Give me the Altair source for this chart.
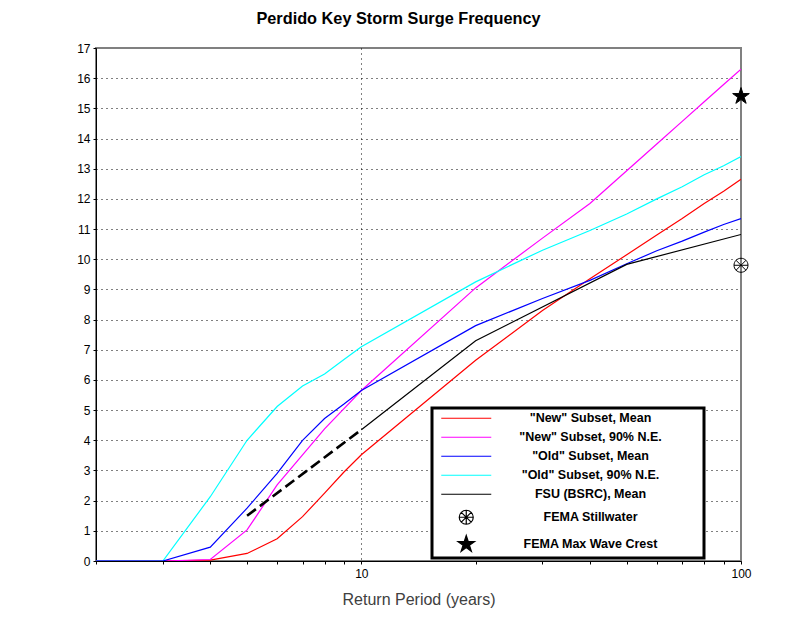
import math
import altair as alt
import pandas as pd

# ---- data ----
periods = [2, 3, 4, 5, 6, 7, 8, 9, 10, 20, 30, 40, 50, 60, 70, 80, 90, 100]
new_mean = [0, 0, 0.03, 0.25, 0.74, 1.47, 2.25, 2.95, 3.52, 6.65, 8.3, 9.35, 10.15, 10.8, 11.35, 11.85, 12.25, 12.65]
new_90 = [0, 0, 0.05, 1.03, 2.52, 3.52, 4.38, 5.05, 5.65, 9.05, 10.7, 11.85, 12.93, 13.82, 14.57, 15.22, 15.79, 16.3]
old_mean = [0, 0, 0.46, 1.75, 2.9, 4.0, 4.72, 5.2, 5.65, 7.8, 8.7, 9.3, 9.85, 10.28, 10.6, 10.9, 11.15, 11.35]
old_90 = [0, 0, 2.13, 4.0, 5.12, 5.8, 6.2, 6.68, 7.1, 9.25, 10.3, 10.95, 11.5, 12.0, 12.4, 12.8, 13.1, 13.4]
fsu_periods = [5, 10, 20, 50, 100]
fsu_mean = [1.5, 4.35, 7.3, 9.83, 10.82]
fema_periods = [100, 100]
fema_values = [9.8, 15.4]

labels = ['"New" Subset, Mean', '"New" Subset, 90% N.E.', '"Old" Subset, Mean',
          '"Old" Subset, 90% N.E.', 'FSU (BSRC), Mean', 'FEMA Stillwater', 'FEMA Max Wave Crest']
colors = ["#ff0000", "#ff00ff", "#0000ff", "#00ffff", "#000000", "#000000", "#000000"]

# ---- symbol shapes (path units: 1 unit = 5 px at size 100) ----
LINE = "M-5,0L5,0"
r = 1.4
d = r * 0.7071
STILL = (f"M{r},0A{r},{r},0,1,1,{-r},0A{r},{r},0,1,1,{r},0Z"
         f"M{-r},0L{r},0M0,{-r}L0,{r}M{-d:.3f},{-d:.3f}L{d:.3f},{d:.3f}M{-d:.3f},{d:.3f}L{d:.3f},{-d:.3f}")
pts = []
for k in range(10):
    rad = 1.75 if k % 2 == 0 else 1.75 * 0.382
    a = math.radians(-90 + 36 * k)
    pts.append(f"{rad * math.cos(a):.3f},{rad * math.sin(a):.3f}")
STAR = "M" + "L".join(pts) + "Z"
shapes = [LINE] * 5 + [STILL, STAR]
fills = ["transparent"] * 5 + ["white", "black"]

rows = []
for name, vals in [(labels[0], new_mean), (labels[1], new_90), (labels[3], old_90), (labels[2], old_mean)]:
    for p, v in zip(periods, vals):
        rows.append({"period": p, "value": v, "series": name})
for p, v in zip(fsu_periods, fsu_mean):
    rows.append({"period": p, "value": v, "series": labels[4]})
lines_df = pd.DataFrame(rows)
fema_df = pd.DataFrame({"period": fema_periods, "value": fema_values, "series": labels[5:]})

xscale = alt.Scale(type="log", domain=[2, 100], nice=False)
yscale = alt.Scale(domain=[0, 17], nice=False)
x_ticks = [2, 3, 4, 5, 6, 7, 8, 9, 10, 20, 30, 40, 50, 60, 70, 80, 90, 100]
y_ticks = [i / 2 for i in range(0, 35)]

xaxis = alt.Axis(values=x_ticks, tickCount=100,
                 labelExpr="datum.value == 10 || datum.value == 100 ? datum.label : ''",
                 format="d", title="Return Period (years)", grid=True,
                 gridOpacity={"condition": {"test": "datum.value == 10", "value": 1}, "value": 0},
                 gridDash=[1, 4], gridColor="#000000", tickSize=3, labelPadding=4,
                 titlePadding=12, titleFontSize=16, titleFontWeight="normal", titleColor="#404040",
                 labelFontSize=12, labelColor="#000000", domainColor="#000000", tickColor="#000000",
                 labelFlush=False, labelOverlap=False)
yaxis = alt.Axis(values=y_ticks, tickCount=100, format="d",
                 labelExpr="datum.value % 1 == 0 ? datum.label : ''",
                 title=None, grid=True,
                 gridOpacity={"condition": {"test": "datum.value % 1 == 0 && datum.value > 0 && datum.value < 17", "value": 1}, "value": 0},
                 gridDash=[1, 4], gridColor="#000000", tickSize=3, labelPadding=3,
                 labelFontSize=12, labelColor="#000000", domainColor="#000000", tickColor="#000000",
                 labelFlush=False, labelOverlap=False)

pad_l = "\u200b" + "\u00a0" * 11
pad_r = "\u00a0" * 11 + "\u200b"
legend = alt.Legend(title=None, orient="none", legendX=336, legendY=360, strokeColor="#000000",
                    fillColor="white", padding=4, labelAlign="center", labelOffset=118,
                    symbolOffset=24, labelExpr=f"'{pad_l}' + datum.label + '{pad_r}'",
                    labelFontSize=12.5, labelFontWeight="bold", labelColor="#000000",
                    rowPadding=6, symbolStrokeWidth=1.2, labelLimit=400)

color_enc = alt.Color("series:N", scale=alt.Scale(domain=labels, range=colors), legend=legend)

lines = alt.Chart(lines_df).transform_filter(
    "datum.series != 'FSU (BSRC), Mean' || datum.period >= 10"
).mark_line(strokeWidth=1.2, clip=True).encode(
    x=alt.X("period:Q", scale=xscale, axis=xaxis),
    y=alt.Y("value:Q", scale=yscale, axis=yaxis),
    color=color_enc,
    detail="series:N",
)

fsu_dash = alt.Chart(lines_df).transform_filter(
    "datum.series == 'FSU (BSRC), Mean' && datum.period <= 10"
).mark_line(strokeWidth=2.6, strokeDash=[11, 5], color="#000000").encode(
    x=alt.X("period:Q", scale=xscale),
    y=alt.Y("value:Q", scale=yscale),
)

points = alt.Chart(fema_df).mark_point(filled=False, strokeWidth=1, opacity=1, size=100).encode(
    x=alt.X("period:Q", scale=xscale),
    y=alt.Y("value:Q", scale=yscale),
    color=alt.Color("series:N", scale=alt.Scale(domain=labels, range=colors)),
    shape=alt.Shape("series:N", scale=alt.Scale(domain=labels, range=shapes)),
    fill=alt.Fill("series:N", scale=alt.Scale(domain=labels, range=fills)),
)

chart = alt.layer(lines, fsu_dash, points).properties(
    width=645, height=513,
    padding={"left": 88, "top": 40, "right": 40, "bottom": 60},
    autosize=alt.AutoSizeParams(type="none"),
    title=alt.TitleParams("Perdido Key Storm Surge Frequency", fontSize=16.3, fontWeight="bold",
                          font="Liberation Sans",
                          anchor="middle", dx=-20, offset=15, color="#000000"),
).configure(font="Liberation Sans").configure_view(
    stroke="#808080", strokeWidth=2
).configure_legend(strokeWidth=3, symbolSize=100)

chart.save("out.html", embed_options={"renderer": "svg", "actions": False})
